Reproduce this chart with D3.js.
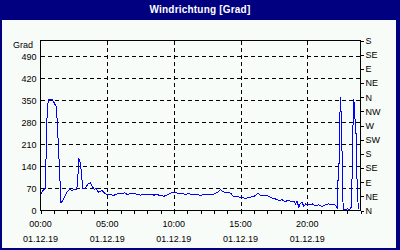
<!DOCTYPE html>
<html>
<head>
  <meta charset="utf-8">
  <title>Windrichtung</title>
  <script src="https://d3js.org/d3.v7.min.js"></script>
  <style>
    body { margin: 0; background: #fff; }
    svg { display: block; font-family: "Liberation Sans", Arial, sans-serif; }
    .tick text { font-size: 9px; fill: #000; }
  </style>
</head>
<body>
<svg id="chart" width="400" height="250"></svg>
<script>
// time of day in hours (01.12.19), wind direction in degrees
var hours = [0.05, 0.23, 0.38, 0.40, 0.43, 0.50, 0.58, 0.88, 1.00, 1.20, 1.37, 1.45, 1.54,
  1.73, 1.97, 2.18, 2.35, 2.60, 2.72, 2.80, 2.87, 2.98, 3.05, 3.17, 3.35, 3.55, 3.75, 3.85,
  4.03, 4.18, 4.35, 4.60, 4.80, 4.97, 5.25, 5.50, 5.75, 5.95, 6.13, 6.30, 6.50, 6.75, 7.00,
  7.25, 7.50, 7.75, 8.00, 8.25, 8.50, 8.75, 9.00, 9.25, 9.50, 9.75, 10.00, 10.25, 10.50,
  10.88, 11.12, 11.50, 12.00, 12.50, 13.00, 13.25, 13.50, 13.70, 14.00, 14.25, 14.50, 14.87,
  15.13, 15.38, 15.62, 16.00, 16.33, 16.50, 16.75, 17.00, 17.25, 17.50, 17.75, 17.87, 18.13,
  18.38, 18.50, 18.75, 19.00, 19.13, 19.25, 19.37, 19.50, 19.63, 19.75, 19.88, 20.12, 20.38,
  20.62, 20.87, 21.13, 21.38, 21.62, 21.75, 22.00, 22.12, 22.25, 22.30, 22.37, 22.43, 22.50,
  22.58, 22.65, 22.70, 22.88, 23.03, 23.20, 23.29, 23.36, 23.44, 23.50, 23.57, 23.65, 23.74,
  23.83, 23.90];
var windDir = [53, 67, 70, 118, 213, 308, 352, 352, 344, 328, 181, 106, 23,
  37, 58, 68, 64, 68, 67, 106, 166, 153, 127, 69, 71, 83, 89, 79,
  67, 70, 58, 64, 55, 51, 50, 48, 53, 55, 53, 56, 51, 54, 55,
  51, 49, 51, 50, 51, 49, 50, 48, 45, 50, 55, 59, 55, 53,
  52, 53, 50, 49, 50, 52, 57, 67, 59, 58, 55, 44, 43,
  42, 37, 42, 44, 55, 47, 48, 47, 42, 37, 36, 32, 34,
  28, 32, 30, 29, 21, 29, 10, 23, 25, 13, 21, 19, 21,
  15, 18, 13, 19, 21, 18, 19, 16, 8, 95, 95, 270, 360,
  270, 97, 5, 3, 5, 3, 10, 90, 275, 355, 296, 270, 95,
  10, 5];

var yTicks = [0, 70, 140, 210, 280, 350, 420, 490];
var compassLabels = ["N", "NE", "E", "SE", "S", "SW", "W", "NW", "N", "NE", "E", "SE", "S"];
var xTickHours = [0, 5, 10, 15, 20];
var xTimeLabels = ["00:00", "05:00", "10:00", "15:00", "20:00"];
var xDateLabels = ["01.12.19", "01.12.19", "01.12.19", "01.12.19", "01.12.19"];

var svg = d3.select("#chart");

// window frame + title bar
svg.append("rect").attr("width", 400).attr("height", 250).attr("fill", "#000080");
svg.append("rect").attr("x", 2).attr("y", 20).attr("width", 394).attr("height", 228)
  .attr("fill", "#f8fcf8");
svg.append("text").attr("x", 200).attr("y", 13).attr("text-anchor", "middle")
  .attr("fill", "#fff").style("font-size", "10px").style("font-weight", "bold")
  .style("letter-spacing", "0.2px").text("Windrichtung [Grad]");

var x = d3.scaleLinear().domain([0, 24]).range([40.5, 360.5]);
var y = d3.scaleLinear().domain([0, 540]).range([210.5, 40.5]);

// grid
var grid = svg.append("g").attr("stroke", "#000").attr("stroke-dasharray", "4,3")
  .attr("shape-rendering", "crispEdges");
grid.selectAll(".hg").data(yTicks.slice(1)).enter().append("line")
  .attr("x1", x(0)).attr("x2", x(24))
  .attr("y1", function(d) { return Math.round(y(d)) + 0.5; })
  .attr("y2", function(d) { return Math.round(y(d)) + 0.5; });
grid.selectAll(".vg").data(xTickHours.slice(1)).enter().append("line")
  .attr("y1", y(540)).attr("y2", y(0))
  .attr("x1", function(d) { return Math.round(x(d)) + 0.5; })
  .attr("x2", function(d) { return Math.round(x(d)) + 0.5; });

// data line (aliased like the original bitmap)
svg.append("path")
  .datum(hours.map(function(h, i) { return [h, windDir[i]]; }))
  .attr("fill", "none").attr("stroke", "#0000ff").attr("stroke-width", 1)
  .attr("shape-rendering", "crispEdges")
  .attr("d", d3.line().x(function(d) { return x(d[0]); }).y(function(d) { return y(d[1]); }));

// plot frame
svg.append("rect").attr("x", x(0)).attr("y", y(540))
  .attr("width", x(24) - x(0)).attr("height", y(0) - y(540))
  .attr("fill", "none").attr("stroke", "#000").attr("shape-rendering", "crispEdges");

// left axis
var yAxis = svg.append("g").attr("transform", "translate(" + x(0) + ",0)")
  .call(d3.axisLeft(y).tickValues(yTicks).tickSize(0).tickPadding(4));
yAxis.select(".domain").remove();
yAxis.selectAll("text").attr("dy", "0.35em");

svg.append("text").attr("x", 33).attr("y", 48).attr("text-anchor", "end")
  .style("font-size", "9px").text("Grad");

// right axis (compass)
var rAxis = svg.append("g").attr("transform", "translate(" + x(24) + ",0)")
  .call(d3.axisRight(y).tickValues(d3.range(0, 541, 45)).tickSize(3).tickPadding(2)
    .tickFormat(function(d, i) { return compassLabels[i]; }));
rAxis.select(".domain").remove();
rAxis.selectAll("line").attr("shape-rendering", "crispEdges");

// bottom axis: hourly minor ticks
var xAxis = svg.append("g").attr("transform", "translate(0," + y(0) + ")")
  .call(d3.axisBottom(x).tickValues(d3.range(0, 25, 1)).tickSize(3).tickFormat(""));
xAxis.select(".domain").remove();
xAxis.selectAll("line").attr("shape-rendering", "crispEdges");

var xl = svg.append("g").style("font-size", "9px").attr("text-anchor", "middle");
xl.selectAll(".tl").data(xTickHours).enter().append("text")
  .attr("x", function(d) { return x(d); }).attr("y", 227)
  .text(function(d, i) { return xTimeLabels[i]; });
xl.selectAll(".dl").data(xTickHours).enter().append("text")
  .attr("x", function(d) { return x(d); }).attr("y", 242)
  .text(function(d, i) { return xDateLabels[i]; });
</script>
</body>
</html>
